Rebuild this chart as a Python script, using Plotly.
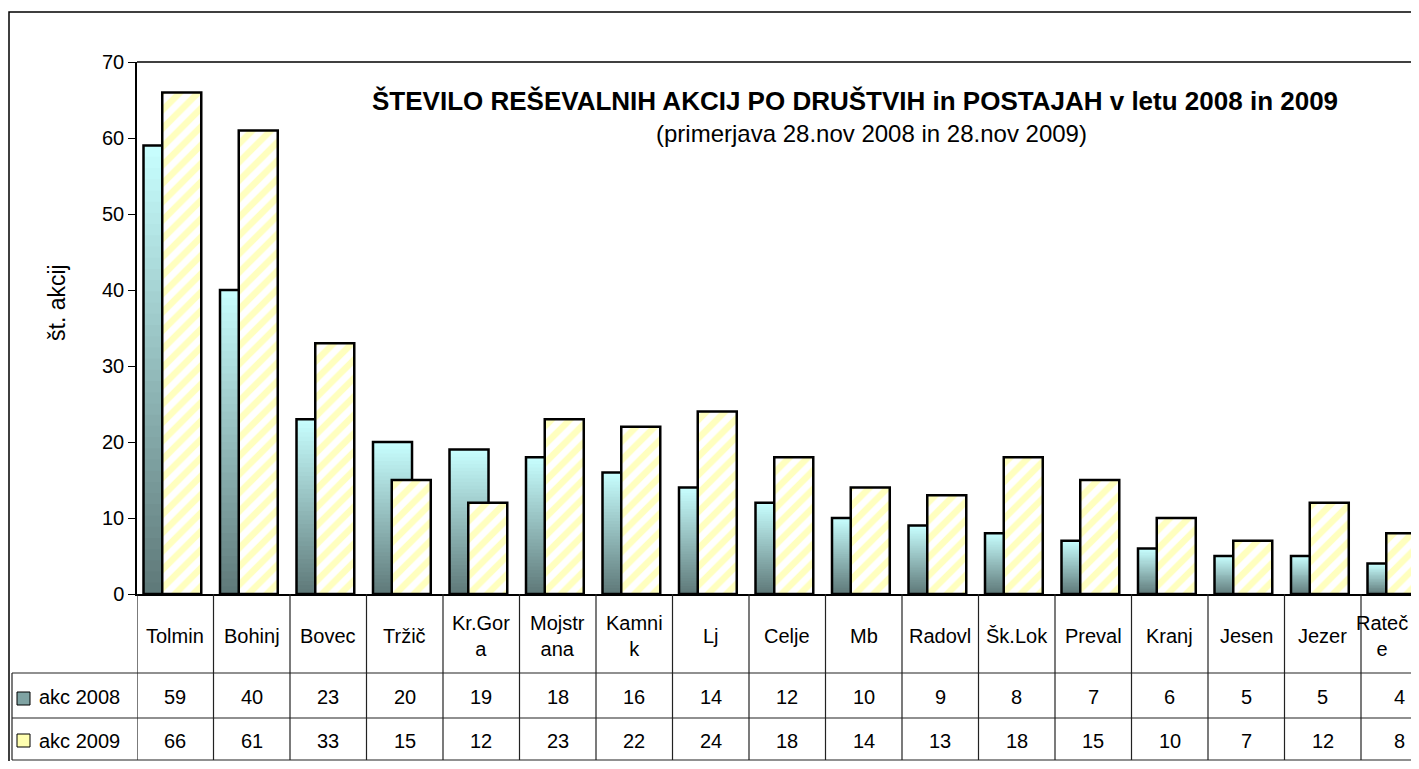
import plotly.graph_objects as go

# podatki
postaje = ["Tolmin", "Bohinj", "Bovec", "Tržič", "Kr.Gora", "Mojstrana", "Kamnik", "Lj",
           "Celje", "Mb", "Radovl", "Šk.Lok", "Preval", "Kranj", "Jesen", "Jezer", "Rateče"]
postaje_tabela = ["Tolmin", "Bohinj", "Bovec", "Tržič", "Kr.Gor<br>a", "Mojstr<br>ana", "Kamni<br>k", "Lj",
                  "Celje", "Mb", "Radovl", "Šk.Lok", "Preval", "Kranj", "Jesen", "Jezer", "Rateč<br>e"]
akc_2008 = [59, 40, 23, 20, 19, 18, 16, 14, 12, 10, 9, 8, 7, 6, 5, 5, 4]
akc_2009 = [66, 61, 33, 15, 12, 23, 22, 24, 18, 14, 13, 18, 15, 10, 7, 12, 8]
y_ticks = [0, 10, 20, 30, 40, 50, 60, 70]

# stran ima 8px roba (body margin) na vseh straneh
OFF = 8
W, H = 1419 - 2 * OFF, 769 - 2 * OFF
L, T = 129, 54
B = H - (594 - OFF)
PW = W - L
PH = H - T - B
cat_w = 76.5  # px na kategorijo
n = len(postaje)
x_max = -0.5 + PW / cat_w

FONT = "Liberation Sans, Arial, sans-serif"
FS = 20
xs = list(range(n))

fig = go.Figure()

# gradient za 2008: razdeli stolpce na rezine (rezine se malo prekrivajo, da ni črt)
N = 40
top = (200, 255, 255)
bot = (94, 120, 120)
for k in range(N):
    t = (k + 0.5) / N
    c = tuple(round(bot[i] + (top[i] - bot[i]) * t) for i in range(3))
    f = 1.6 if k < N - 1 else 1.0
    fig.add_trace(go.Bar(
        x=xs, y=[v / N * f for v in akc_2008], base=[v * k / N for v in akc_2008],
        width=0.51, offset=-0.415,
        marker=dict(color="rgb(%d,%d,%d)" % c, line=dict(width=0)),
        showlegend=False, hoverinfo="skip"))
# obroba 2008
fig.add_trace(go.Bar(
    x=xs, y=akc_2008, width=0.51, offset=-0.415, name="akc 2008",
    marker=dict(color="rgba(0,0,0,0)", line=dict(color="black", width=2.5)),
    showlegend=False))
# 2009 s šrafuro
fig.add_trace(go.Bar(
    x=xs, y=akc_2009, width=0.51, offset=-0.17, name="akc 2009",
    marker=dict(color="white", line=dict(color="black", width=2.5),
                pattern=dict(shape="/", fgcolor="#FFFF80", bgcolor="white", size=13, solidity=0.5)),
    showlegend=False))

# pretvorba iz pikslov zaslona v paper koordinate
def px_x(p):
    return (p - OFF - L) / PW

def px_y(p):
    return (H - B - (p - OFF)) / PH

shapes = []
line_c = "#222222"
# zunanji okvir
shapes.append(dict(type="rect", xref="paper", yref="paper", x0=px_x(9), x1=px_x(1430),
                   y0=px_y(780), y1=px_y(12), line=dict(color="black", width=1.5)))
# zgornja meja risalne površine
shapes.append(dict(type="line", xref="paper", yref="paper", x0=0, x1=1, y0=1, y1=1,
                   line=dict(color="black", width=1.5)))
# tabela: vodoravne črte
for yy in [673, 718, 760]:
    shapes.append(dict(type="line", xref="paper", yref="paper", x0=px_x(12), x1=1,
                       y0=px_y(yy), y1=px_y(yy), line=dict(color=line_c, width=1.2)))
shapes.append(dict(type="line", xref="paper", yref="paper", x0=px_x(12), x1=px_x(12),
                   y0=px_y(673), y1=px_y(760), line=dict(color=line_c, width=1.2)))
# tabela: navpične črte
for i in range(n + 1):
    xb = i - 0.5
    if xb > x_max:
        break
    shapes.append(dict(type="line", xref="x", yref="paper", x0=xb, x1=xb,
                       y0=0, y1=px_y(760), line=dict(color=line_c, width=1.2)))
# legendni ključi
shapes.append(dict(type="rect", xref="paper", yref="paper", x0=px_x(17), x1=px_x(30),
                   y0=px_y(705), y1=px_y(692), fillcolor="#7FA3A3", line=dict(color="black", width=1)))
shapes.append(dict(type="rect", xref="paper", yref="paper", x0=px_x(17), x1=px_x(30),
                   y0=px_y(747), y1=px_y(734), fillcolor="#FFFFB0", line=dict(color="black", width=1)))

def txt(x, y, s, size=FS, xref="paper", xanchor="center", **kw):
    return dict(x=x, y=y, xref=xref, yref="paper", text=s, showarrow=False,
                xanchor=xanchor, yanchor="middle",
                font=dict(size=size, color="black", family=FONT), **kw)

ann = []
for i in range(n):
    if i == n - 1:
        # zadnja celica je odrezana na desnem robu
        ann.append(txt(px_x(1410), px_y(636), postaje_tabela[i], xanchor="right", align="center"))
    else:
        ann.append(txt(i, px_y(636), postaje_tabela[i], xref="x"))
    ann.append(txt(i, px_y(697), str(akc_2008[i]), xref="x"))
    ann.append(txt(i, px_y(741), str(akc_2009[i]), xref="x"))
ann.append(txt(px_x(37), px_y(697), "akc 2008", xanchor="left"))
ann.append(txt(px_x(37), px_y(741), "akc 2009", xanchor="left"))
# naslov
ann.append(txt(px_x(855), px_y(101),
               "<b>ŠTEVILO REŠEVALNIH AKCIJ PO DRUŠTVIH in POSTAJAH v letu 2008 in 2009</b>", size=26))
ann.append(txt(px_x(872), px_y(133), "(primerjava 28.nov 2008 in 28.nov 2009)", size=24))
# naslov osi y
ann.append(txt(px_x(57), px_y(303), "št. akcij", size=23, textangle=-90))

fig.update_layout(
    width=W, height=H,
    margin=dict(l=L, r=0, t=T, b=B, pad=0),
    barmode="overlay",
    plot_bgcolor="white", paper_bgcolor="white",
    font=dict(family=FONT, size=FS, color="black"),
    xaxis=dict(range=[-0.5, x_max], tickvals=xs, showticklabels=False, ticks="",
               showgrid=False, zeroline=False, showline=True, linecolor="black", linewidth=1.5),
    yaxis=dict(range=[0, 70], tickvals=y_ticks, ticks="outside", ticklen=7, tickcolor="black",
               showgrid=False, zeroline=False, showline=True, linecolor="black", linewidth=1.5,
               tickfont=dict(size=FS, family=FONT)),
    shapes=shapes, annotations=ann,
)

fig.write_html("out.html")
